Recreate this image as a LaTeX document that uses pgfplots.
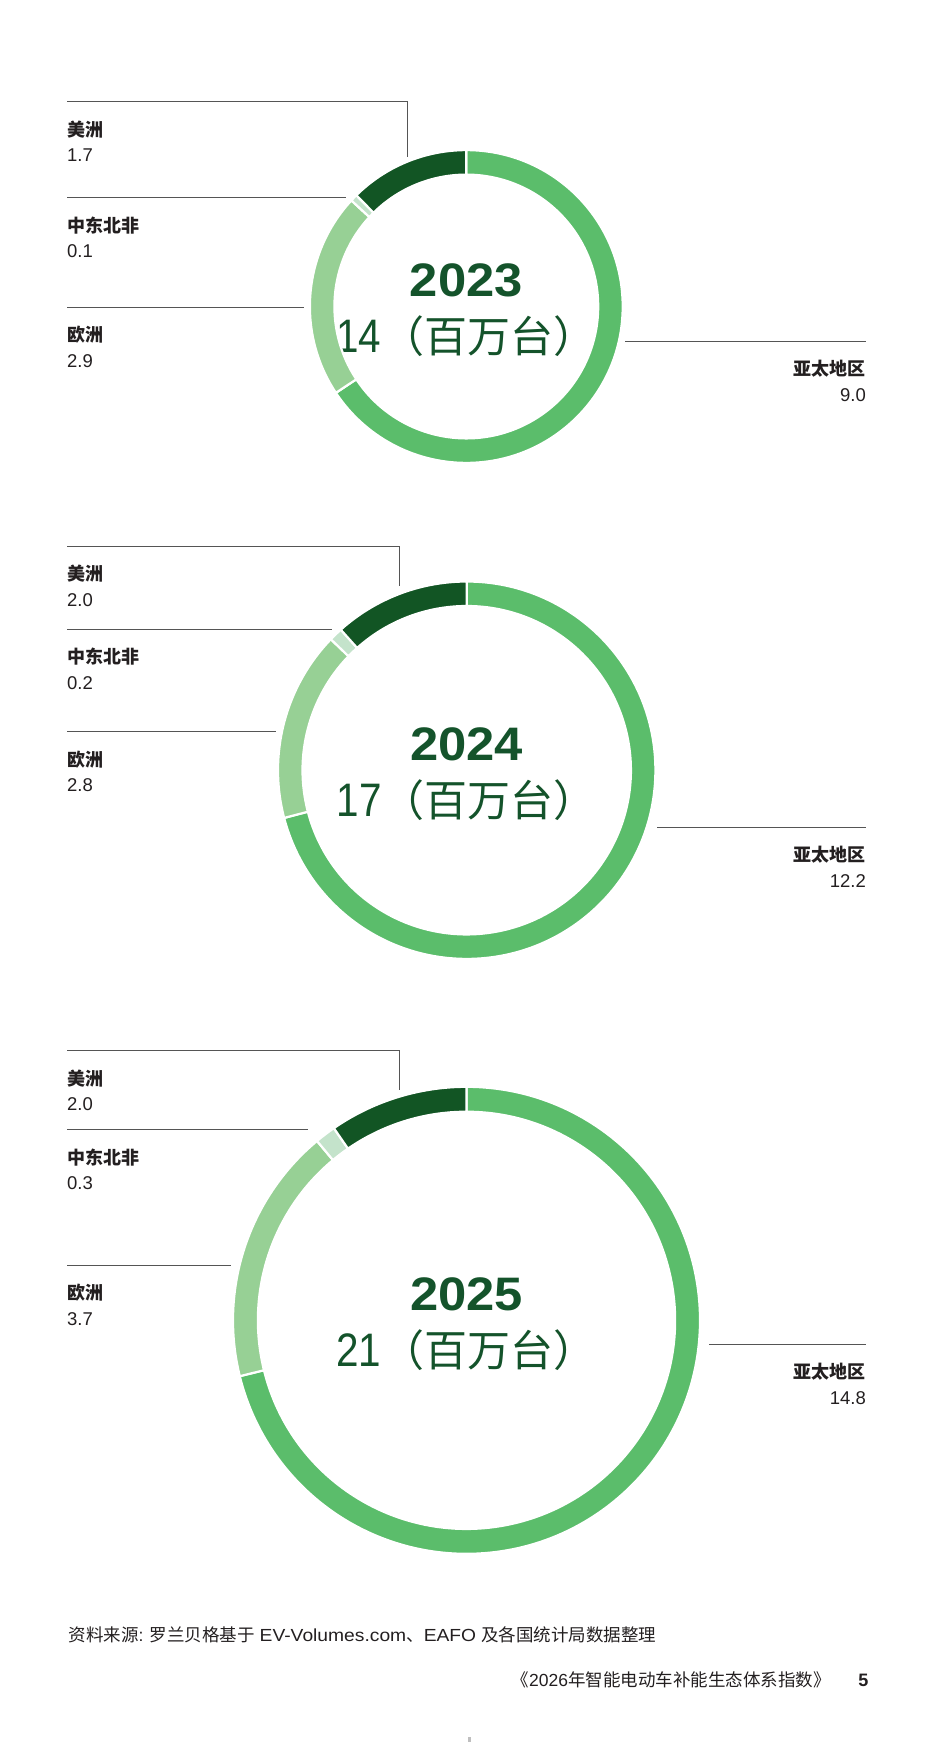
\documentclass[border=0pt]{standalone}
\usepackage{pgfplots}
\pgfplotsset{compat=1.18}
\usepackage{pgfplotstable}
\usepackage{graphicx}
\usepackage{fontspec}
\setmainfont{Liberation Sans}
\newfontfamily\cjk{Noto Sans CJK SC}

\definecolor{cAP}{HTML}{5BBD6B}
\definecolor{cEU}{HTML}{97D095}
\definecolor{cME}{HTML}{C4E3CB}
\definecolor{cAM}{HTML}{125524}
\definecolor{cTxt}{HTML}{14532B}
\definecolor{cLab}{HTML}{231F20}
\definecolor{cLine}{HTML}{555555}

% clockwise from 12 o'clock: Asia-Pacific, Europe, MENA, Americas
\pgfplotstableread{
seg val
AP  9.0
EU  2.9
ME  0.1
AM  1.7
}\ringA
\pgfplotstableread{
seg val
AP  12.2
EU  2.8
ME  0.2
AM  2.0
}\ringB
\pgfplotstableread{
seg val
AP  14.8
EU  3.7
ME  0.3
AM  2.0
}\ringC

\newcommand\sumcol[2]{%
  \pgfplotstablegetrowsof{#1}%
  \pgfmathtruncatemacro\lastrow{\pgfplotsretval-1}%
  \gdef#2{0}%
  \foreach \r in {0,...,\lastrow}{%
    \pgfplotstablegetelem{\r}{val}\of#1%
    \pgfmathsetmacro\tmp{#2+\pgfplotsretval}%
    \xdef#2{\tmp}%
  }%
}
\sumcol\ringA\totA
\sumcol\ringB\totB
\sumcol\ringC\totC

\newcommand\segcolor[1]{\ifcase#1 cAP\or cEU\or cME\or cAM\fi}

\pgfdeclareplotmark{nothing}{}
\pgfplotsset{
  ring/.style n args={3}{% outer radius, inner radius, total
    scatter, only marks, mark=nothing,
    point meta=explicit symbolic,
    execute at begin plot visualization={\gdef\segacc{0}\gdef\segidx{0}},
    scatter/@pre marker code/.code={%
      \pgfkeys{/pgf/fpu=false}%
      \edef\segval{\pgfplotspointmeta}%
      \pgfmathsetmacro\sa{90-\segacc/#3*360}%
      \pgfmathsetmacro\segnew{\segacc+\segval}%
      \global\let\segacc\segnew
      \pgfmathsetmacro\sb{90-\segacc/#3*360}%
      \edef\segcol{\segcolor{\segidx}}%
      \fill[fill=\segcol, draw=white, line width=2.2pt]
        (\sa:#1pt) arc[start angle=\sa, end angle=\sb, radius=#1pt]
        -- (\sb:#2pt) arc[start angle=\sb, end angle=\sa, radius=#2pt] -- cycle;
      \pgfmathtruncatemacro\segnext{\segidx+1}%
      \global\let\segidx\segnext
    },
    scatter/@post marker code/.code={},
  },
}

\newcommand\nm[1]{{\cjk\bfseries\fontsize{18}{20}\selectfont #1}}
\newcommand\vl[1]{{\fontsize{18.5}{20}\selectfont #1}}
\newcommand\yr[1]{{\bfseries\fontsize{47}{50}\selectfont\scalebox{1.08}[1]{#1}}}
\newcommand\mio[1]{{\fontsize{47}{50}\selectfont\scalebox{0.86}[1]{#1}}{\cjk\fontsize{43}{46}\selectfont （百万台）}}
\newcommand\ft[1]{\scalebox{1.1}[1]{#1}}

\begin{document}
\begin{tikzpicture}[
  lab/.style={inner sep=0pt, text=cLab},
  ctr/.style={inner sep=0pt, text=cTxt, anchor=base},
]
\begin{axis}[
  x=1pt, y=1pt,
  xmin=0, xmax=933, ymin=0, ymax=1753,
  y dir=reverse,
  hide axis, clip=false,
]
\path (0,0) rectangle (933,1753);

% donuts
\addplot[ring={156.4}{131.9}{\totA}] table[x expr=466.3, y expr=306.5, meta=val] {\ringA};
\addplot[ring={188.7}{164.2}{\totB}] table[x expr=466.7, y expr=770.2, meta=val] {\ringB};
\addplot[ring={233.5}{208.6}{\totC}] table[x expr=466.5, y expr=1320.3, meta=val] {\ringC};

% leader lines
\begin{scope}[cLine, line width=1pt]
\draw (67,101.7) -- (407,101.7) -- (407,156.7);
\draw (67,197.7) -- (345.7,197.7);
\draw (67,307) -- (304,307);
\draw (625,341) -- (866,341);
\draw (67,546) -- (399.3,546) -- (399.3,586);
\draw (67,629) -- (331.7,629);
\draw (67,731.7) -- (276,731.7);
\draw (657.3,827.3) -- (866,827.3);
\draw (67,1050.7) -- (399.3,1050.7) -- (399.3,1090);
\draw (67,1129.7) -- (308.3,1129.7);
\draw (67,1265) -- (231,1265);
\draw (709.3,1344.3) -- (866,1344.3);
\end{scope}

% 2023
\node[lab, anchor=base west] at (67,136.2) {\nm{美洲}};
\node[lab, anchor=base west] at (67,161.7) {\vl{1.7}};
\node[lab, anchor=base west] at (67,232.2) {\nm{中东北非}};
\node[lab, anchor=base west] at (67,257.7) {\vl{0.1}};
\node[lab, anchor=base west] at (67,341.5) {\nm{欧洲}};
\node[lab, anchor=base west] at (67,367) {\vl{2.9}};
\node[lab, anchor=base east] at (866,375.5) {\nm{亚太地区}};
\node[lab, anchor=base east] at (866,401) {\vl{9.0}};
\node[ctr] at (466.3,296) {\yr{2023}};
\node[ctr] at (466.3,352.5) {\mio{14}};

% 2024
\node[lab, anchor=base west] at (67,580.5) {\nm{美洲}};
\node[lab, anchor=base west] at (67,606) {\vl{2.0}};
\node[lab, anchor=base west] at (67,663.5) {\nm{中东北非}};
\node[lab, anchor=base west] at (67,689) {\vl{0.2}};
\node[lab, anchor=base west] at (67,766.2) {\nm{欧洲}};
\node[lab, anchor=base west] at (67,791.7) {\vl{2.8}};
\node[lab, anchor=base east] at (866,861.8) {\nm{亚太地区}};
\node[lab, anchor=base east] at (866,887.3) {\vl{12.2}};
\node[ctr] at (466.7,760) {\yr{2024}};
\node[ctr] at (466.7,816.5) {\mio{17}};

% 2025
\node[lab, anchor=base west] at (67,1085.2) {\nm{美洲}};
\node[lab, anchor=base west] at (67,1110.7) {\vl{2.0}};
\node[lab, anchor=base west] at (67,1164.2) {\nm{中东北非}};
\node[lab, anchor=base west] at (67,1189.7) {\vl{0.3}};
\node[lab, anchor=base west] at (67,1299.5) {\nm{欧洲}};
\node[lab, anchor=base west] at (67,1325) {\vl{3.7}};
\node[lab, anchor=base east] at (866,1378.8) {\nm{亚太地区}};
\node[lab, anchor=base east] at (866,1404.3) {\vl{14.8}};
\node[ctr] at (466.5,1310) {\yr{2025}};
\node[ctr] at (466.5,1366) {\mio{21}};

% footer
\node[lab, anchor=base west, font=\fontsize{17.5}{20}\selectfont] at (68.3,1641.5)
  {{\cjk 资料来源}: {\cjk 罗兰贝格基于} \ft{EV-Volumes.com}{\cjk 、}\ft{EAFO} {\cjk 及各国统计局数据整理}};
\node[lab, anchor=base west, font=\fontsize{17.5}{20}\selectfont] at (511.5,1686.6)
  {{\cjk 《}2026{\cjk 年智能电动车补能生态体系指数》}};
\node[lab, anchor=base east, font=\bfseries\fontsize{18}{20}\selectfont] at (868.5,1686.6) {5};
\fill[black!25] (468,1736.5) rectangle (471,1741.5);
\end{axis}
\end{tikzpicture}
\end{document}
